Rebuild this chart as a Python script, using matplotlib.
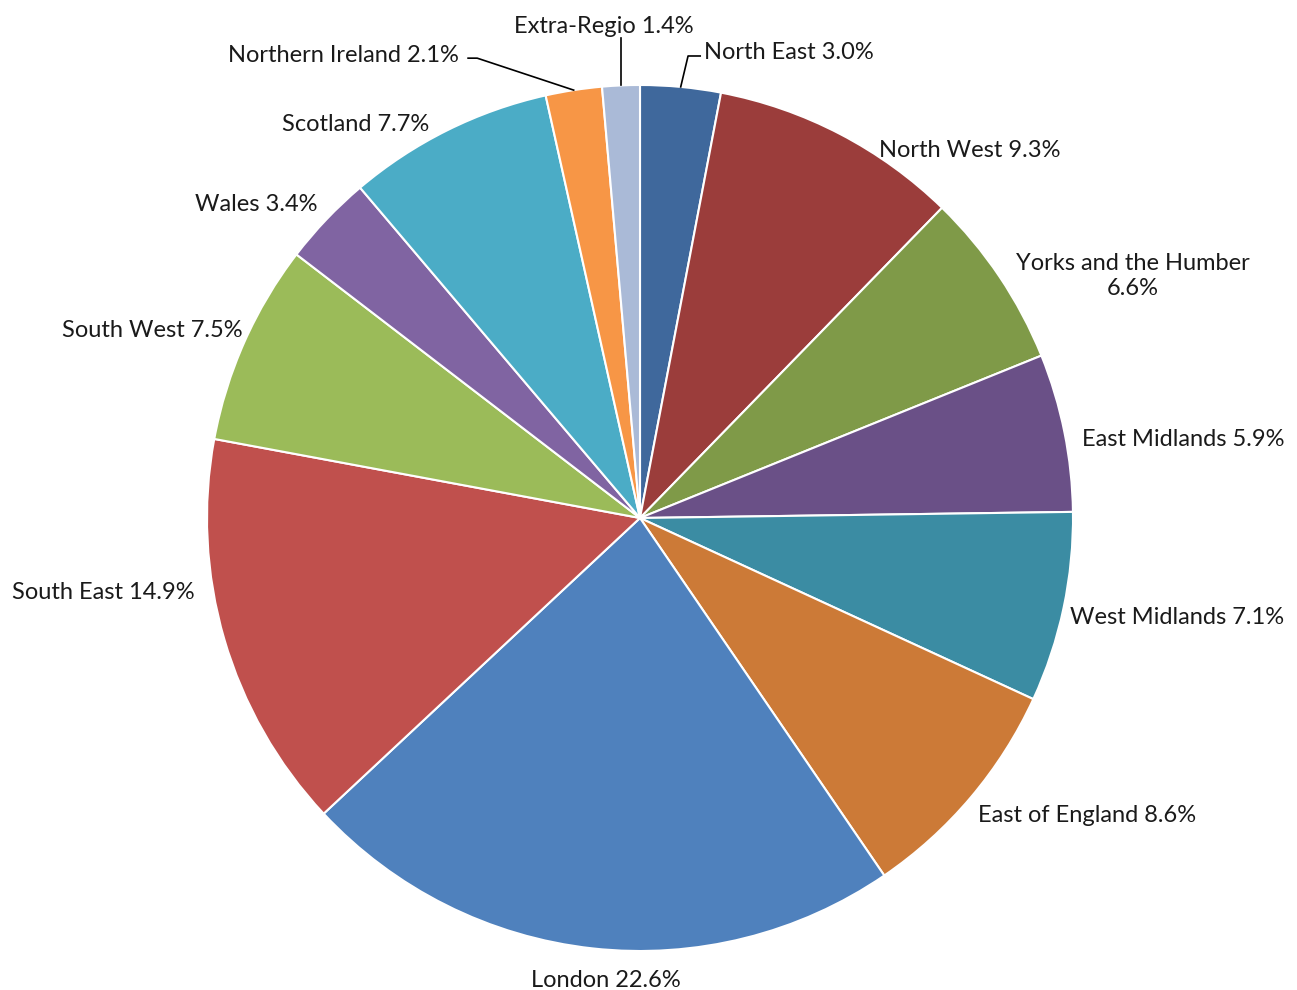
import numpy as np
import matplotlib
matplotlib.use("Agg")
import matplotlib.pyplot as plt

regions = ["North East", "North West", "Yorks and the Humber", "East Midlands",
           "West Midlands", "East of England", "London", "South East",
           "South West", "Wales", "Scotland", "Northern Ireland", "Extra-Regio"]
shares = [3.0, 9.3, 6.6, 5.9, 7.1, 8.6, 22.6, 14.9, 7.5, 3.4, 7.7, 2.1, 1.4]
colors = ["#3F689C", "#9B3D3B", "#7F9A48", "#6A5087", "#3B8CA3", "#CC7A37",
          "#4F81BD", "#C0504D", "#9BBB59", "#8064A2", "#4BACC6", "#F79646",
          "#AABAD7"]

# label layout (data units, radius = 1): x, y, horizontal alignment
label_layout = {
    "North East": (0.148, 1.081, "left"),
    "North West": (0.762, 0.855, "center"),
    "Yorks and the Humber": (1.139, 0.566, "center"),
    "East Midlands": (1.254, 0.189, "center"),
    "West Midlands": (1.240, -0.222, "center"),
    "East of England": (1.032, -0.679, "center"),
    "London": (-0.079, -1.062, "center"),
    "South East": (-1.240, -0.166, "center"),
    "South West": (-1.127, 0.439, "center"),
    "Wales": (-0.887, 0.730, "center"),
    "Scotland": (-0.656, 0.915, "center"),
    "Northern Ireland": (-0.418, 1.076, "right"),
    "Extra-Regio": (-0.083, 1.143, "center"),
}
# leader line bends for the small slices
leaders = {
    "North East": [(0.111, 1.067), (0.139, 1.067)],
    "Extra-Regio": [(None, 1.109)],
    "Northern Ireland": [(-0.376, 1.062), (-0.397, 1.062)],
}

fig = plt.figure(figsize=(12.97, 9.9), dpi=100)
cx, cy, r = 640 / 1297, (990 - 518) / 990, 433
ax = fig.add_axes([cx - r / 1297, cy - r / 990, 2 * r / 1297, 2 * r / 990])
wedges, _ = ax.pie(shares, colors=colors, startangle=90, counterclock=False,
                   radius=1, wedgeprops=dict(edgecolor="white", linewidth=1.5))
ax.set_xlim(-1, 1)
ax.set_ylim(-1, 1)
ax.axis("off")

for w, name, val in zip(wedges, regions, shares):
    x, y, ha = label_layout[name]
    if name == "Yorks and the Humber":
        txt = "Yorks and the Humber\n%.1f%%" % val
    else:
        txt = "%s %.1f%%" % (name, val)
    ax.text(x, y - 0.007, txt, ha=ha, va="center", fontsize=17, family="Lato",
            color="#1a1a1a", linespacing=1.25, clip_on=False)
    if name in leaders:
        ang = np.deg2rad((w.theta1 + w.theta2) / 2)
        ex, ey = np.cos(ang), np.sin(ang)
        xs, ys = [ex], [ey]
        for px, py in leaders[name]:
            xs.append(ex if px is None else px)
            ys.append(py)
        ax.plot(xs, ys, color="black", linewidth=1.2, clip_on=False)

fig.savefig("out.png", dpi=100, facecolor="white")
